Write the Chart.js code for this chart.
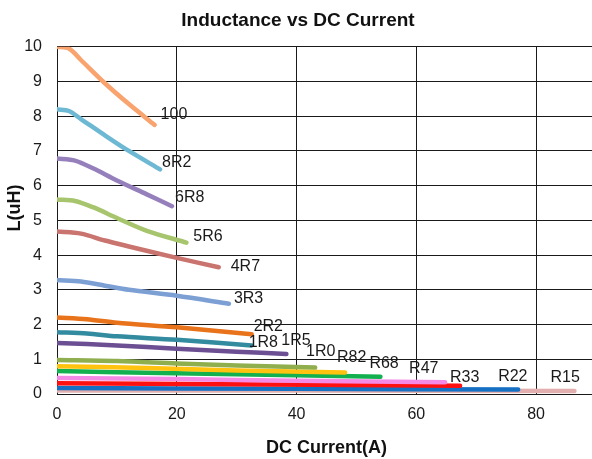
<!DOCTYPE html>
<html>
<head>
<meta charset="utf-8">
<script src="https://cdn.jsdelivr.net/npm/chart.js@4"></script>
<style>
  html, body { margin: 0; padding: 0; background: #fff; overflow: hidden; }
  #wrap { width: 600px; height: 459px; }
</style>
</head>
<body>
<div id="wrap"><canvas id="inductChart" width="600" height="459"></canvas></div>
<script>
  // part names, one curve each
  const parts = ['100', '8R2', '6R8', '5R6', '4R7', '3R3', '2R2', '1R8', '1R5', '1R0', 'R82', 'R68', 'R47', 'R33', 'R22', 'R15'];

  // DC current (A) and inductance (uH)
  const current = [
    [0, 2, 4, 8, 12, 16.3],
    [0, 2, 4, 8, 12, 17.2],
    [0, 3, 6, 10, 15, 19.2],
    [0, 3, 6, 10, 15, 21.6],
    [0, 4, 8, 12, 20, 27],
    [0, 4, 8, 12, 20, 28.7],
    [0, 5, 10, 20, 32.5],
    [0, 5, 10, 20, 32.5],
    [0, 10, 20, 30, 38.3],
    [0, 10, 20, 30, 43.1],
    [0, 15, 30, 48.1],
    [0, 20, 40, 54],
    [0, 20, 40, 64.8],
    [0, 30, 67.3],
    [0, 40, 77],
    [0, 40, 86.4]
  ];
  const inductance = [
    [10, 9.95, 9.62, 8.95, 8.35, 7.75],
    [8.2, 8.15, 7.92, 7.45, 7.0, 6.47],
    [6.78, 6.72, 6.5, 6.15, 5.75, 5.41],
    [5.6, 5.56, 5.38, 5.07, 4.7, 4.36],
    [4.68, 4.62, 4.42, 4.25, 3.92, 3.65],
    [3.28, 3.24, 3.12, 3.0, 2.83, 2.6],
    [2.2, 2.15, 2.05, 1.92, 1.72],
    [1.78, 1.74, 1.66, 1.56, 1.4],
    [1.47, 1.4, 1.3, 1.22, 1.15],
    [0.98, 0.95, 0.88, 0.82, 0.76],
    [0.8, 0.75, 0.68, 0.62],
    [0.66, 0.6, 0.54, 0.5],
    [0.46, 0.43, 0.38, 0.34],
    [0.31, 0.28, 0.24],
    [0.17, 0.15, 0.13],
    [0.1, 0.1, 0.09]
  ];

  const xTicks = [0, 20, 40, 60, 80];

  const colors = ['#F9A36F', '#6DB8D3', '#9680BC', '#A6C56C', '#C9746F', '#7C9FD4', '#E8731A', '#338BA0',
                  '#6B4F92', '#8FAE4E', '#FFC20E', '#12B04E', '#F58AE6', '#FF1010', '#1570C4', '#E2AFAE'];

  // label nudges in px from the end of each curve
  const labelShift = [[6, -10], [2, -7], [3, -9], [7, -6], [12, -1], [5, -5], [2, -8], [-3, -3],
                      [-5, -13], [-9, -16], [-8, -15], [-11, -13], [-36, -14], [-10, -8], [-20, -13], [-24, -13]];

  const FONT = '"Liberation Sans", Arial, sans-serif';

  const datasets = parts.map((name, i) => ({
    label: name,
    data: current[i].map((x, j) => ({ x: x, y: inductance[i][j] })),
    borderColor: colors[i],
    backgroundColor: colors[i],
    borderWidth: 4.5,
    borderCapStyle: 'round',
    pointRadius: 0,
    tension: 0.3,
    fill: false
  }));

  const endLabels = {
    id: 'endLabels',
    afterDatasetsDraw(chart) {
      const ctx = chart.ctx;
      const xs = chart.scales.x, ys = chart.scales.y;
      ctx.save();
      ctx.font = '16px ' + FONT;
      ctx.fillStyle = '#1a1a1a';
      ctx.textAlign = 'left';
      ctx.textBaseline = 'middle';
      parts.forEach((name, i) => {
        const n = current[i].length - 1;
        const px = xs.getPixelForValue(current[i][n]) + labelShift[i][0];
        const py = ys.getPixelForValue(inductance[i][n]) + labelShift[i][1];
        ctx.fillText(name, px, py);
      });
      ctx.restore();
    }
  };

  new Chart(document.getElementById('inductChart'), {
    type: 'line',
    data: { datasets: datasets },
    plugins: [endLabels],
    options: {
      responsive: false,
      animation: false,
      layout: { padding: { left: 0, right: 4, top: 0, bottom: 0 } },
      plugins: {
        legend: { display: false },
        tooltip: { enabled: false },
        title: {
          display: true,
          text: 'Inductance vs DC Current',
          color: '#111',
          font: { family: FONT, size: 19, weight: 'bold', lineHeight: 1.2 },
          padding: { top: 9, bottom: 15 }
        }
      },
      scales: {
        x: {
          type: 'linear',
          min: 0,
          max: 90,
          afterFit: s => { s.height = 65; },
          afterBuildTicks: s => { s.ticks = xTicks.map(v => ({ value: v })); },
          grid: { color: '#1a1a1a', lineWidth: 1, drawTicks: false },
          border: { color: '#1a1a1a' },
          ticks: {
            padding: 11,
            color: '#1a1a1a',
            font: { family: FONT, size: 16 }
          },
          title: {
            display: true,
            text: 'DC Current(A)',
            color: '#111',
            font: { family: FONT, size: 18, weight: 'bold', lineHeight: 1.2 },
            padding: { top: 0, bottom: 0 }
          }
        },
        y: {
          min: 0,
          max: 10,
          afterFit: s => { s.width = 57; },
          grid: { color: '#1a1a1a', lineWidth: 1, drawTicks: false },
          border: { color: '#1a1a1a' },
          ticks: {
            stepSize: 1,
            padding: 15,
            color: '#1a1a1a',
            font: { family: FONT, size: 16 }
          },
          title: {
            display: true,
            text: '\u00a0\u00a0\u00a0\u00a0\u00a0L(uH)',
            color: '#111',
            font: { family: FONT, size: 18, weight: 'bold', lineHeight: 1.2 },
            padding: { top: 4, bottom: 0 }
          }
        }
      }
    }
  });
</script>
</body>
</html>
